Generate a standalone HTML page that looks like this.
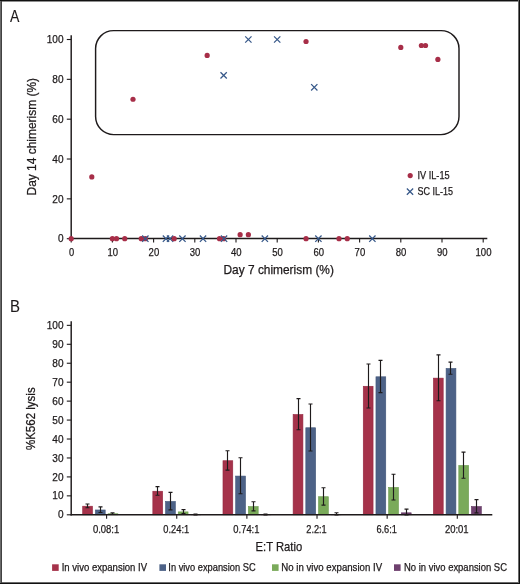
<!DOCTYPE html>
<html><head><meta charset="utf-8"><style>
html,body{margin:0;padding:0;background:#fff;}
body{width:520px;height:584px;overflow:hidden;}
svg{display:block;will-change:transform;}
text{font-family:"Liberation Sans",sans-serif;fill:#1e1a1b;stroke:#1e1a1b;stroke-width:0.25px;}
</style></head><body>
<svg width="520" height="584" viewBox="0 0 520 584">
<rect width="520" height="584" fill="#fff"/>
<text x="10.0" y="22.2" font-size="15.8" textLength="9.4" lengthAdjust="spacingAndGlyphs" style="stroke-width:0.1px">A</text>
<line x1="71.2" y1="35.2" x2="71.2" y2="239.1" stroke="#1e1a1b" stroke-width="1.45"/>
<line x1="70.60000000000001" y1="238.4" x2="487.3" y2="238.4" stroke="#1e1a1b" stroke-width="1.45"/>
<line x1="66.8" y1="238.70" x2="71.2" y2="238.70" stroke="#1e1a1b" stroke-width="1.1"/>
<text x="63.50" y="242.40" font-size="11.2" text-anchor="end" textLength="5.6" lengthAdjust="spacingAndGlyphs" >0</text>
<line x1="66.8" y1="198.86" x2="71.2" y2="198.86" stroke="#1e1a1b" stroke-width="1.1"/>
<text x="63.50" y="202.56" font-size="11.2" text-anchor="end" textLength="11.2" lengthAdjust="spacingAndGlyphs" >20</text>
<line x1="66.8" y1="159.02" x2="71.2" y2="159.02" stroke="#1e1a1b" stroke-width="1.1"/>
<text x="63.50" y="162.72" font-size="11.2" text-anchor="end" textLength="11.2" lengthAdjust="spacingAndGlyphs" >40</text>
<line x1="66.8" y1="119.18" x2="71.2" y2="119.18" stroke="#1e1a1b" stroke-width="1.1"/>
<text x="63.50" y="122.88" font-size="11.2" text-anchor="end" textLength="11.2" lengthAdjust="spacingAndGlyphs" >60</text>
<line x1="66.8" y1="79.34" x2="71.2" y2="79.34" stroke="#1e1a1b" stroke-width="1.1"/>
<text x="63.50" y="83.04" font-size="11.2" text-anchor="end" textLength="11.2" lengthAdjust="spacingAndGlyphs" >80</text>
<line x1="66.8" y1="39.50" x2="71.2" y2="39.50" stroke="#1e1a1b" stroke-width="1.1"/>
<text x="63.50" y="43.20" font-size="11.2" text-anchor="end" textLength="16.799999999999997" lengthAdjust="spacingAndGlyphs" >100</text>
<line x1="71.20" y1="238.4" x2="71.20" y2="242.6" stroke="#1e1a1b" stroke-width="1.1"/>
<text x="71.50" y="255.70" font-size="11" text-anchor="middle" textLength="5.2" lengthAdjust="spacingAndGlyphs" >0</text>
<line x1="112.40" y1="238.4" x2="112.40" y2="242.6" stroke="#1e1a1b" stroke-width="1.1"/>
<text x="112.70" y="255.70" font-size="11" text-anchor="middle" textLength="10.600000000000001" lengthAdjust="spacingAndGlyphs" >10</text>
<line x1="153.60" y1="238.4" x2="153.60" y2="242.6" stroke="#1e1a1b" stroke-width="1.1"/>
<text x="153.90" y="255.70" font-size="11" text-anchor="middle" textLength="10.600000000000001" lengthAdjust="spacingAndGlyphs" >20</text>
<line x1="194.80" y1="238.4" x2="194.80" y2="242.6" stroke="#1e1a1b" stroke-width="1.1"/>
<text x="195.10" y="255.70" font-size="11" text-anchor="middle" textLength="10.600000000000001" lengthAdjust="spacingAndGlyphs" >30</text>
<line x1="236.00" y1="238.4" x2="236.00" y2="242.6" stroke="#1e1a1b" stroke-width="1.1"/>
<text x="236.30" y="255.70" font-size="11" text-anchor="middle" textLength="10.600000000000001" lengthAdjust="spacingAndGlyphs" >40</text>
<line x1="277.20" y1="238.4" x2="277.20" y2="242.6" stroke="#1e1a1b" stroke-width="1.1"/>
<text x="277.50" y="255.70" font-size="11" text-anchor="middle" textLength="10.600000000000001" lengthAdjust="spacingAndGlyphs" >50</text>
<line x1="318.40" y1="238.4" x2="318.40" y2="242.6" stroke="#1e1a1b" stroke-width="1.1"/>
<text x="318.70" y="255.70" font-size="11" text-anchor="middle" textLength="10.600000000000001" lengthAdjust="spacingAndGlyphs" >60</text>
<line x1="359.60" y1="238.4" x2="359.60" y2="242.6" stroke="#1e1a1b" stroke-width="1.1"/>
<text x="359.90" y="255.70" font-size="11" text-anchor="middle" textLength="10.600000000000001" lengthAdjust="spacingAndGlyphs" >70</text>
<line x1="400.80" y1="238.4" x2="400.80" y2="242.6" stroke="#1e1a1b" stroke-width="1.1"/>
<text x="401.10" y="255.70" font-size="11" text-anchor="middle" textLength="10.600000000000001" lengthAdjust="spacingAndGlyphs" >80</text>
<line x1="442.00" y1="238.4" x2="442.00" y2="242.6" stroke="#1e1a1b" stroke-width="1.1"/>
<text x="442.30" y="255.70" font-size="11" text-anchor="middle" textLength="10.600000000000001" lengthAdjust="spacingAndGlyphs" >90</text>
<line x1="483.20" y1="238.4" x2="483.20" y2="242.6" stroke="#1e1a1b" stroke-width="1.1"/>
<text x="483.50" y="255.70" font-size="11" text-anchor="middle" textLength="16.000000000000004" lengthAdjust="spacingAndGlyphs" >100</text>
<text x="223.50" y="273.60" font-size="12.2" text-anchor="start" textLength="110.4" lengthAdjust="spacingAndGlyphs" >Day 7 chimerism (%)</text>
<text transform="translate(36.3,195.5) rotate(-90)" x="0" y="0" font-size="12.2" textLength="117.5" lengthAdjust="spacingAndGlyphs">Day 14 chimerism (%)</text>
<rect x="95.6" y="30.6" width="363.4" height="104.0" rx="18" ry="18" fill="none" stroke="#1e1a1b" stroke-width="1.45"/>
<circle cx="133.00" cy="99.26" r="2.6" fill="#a72e48"/>
<circle cx="207.16" cy="55.44" r="2.6" fill="#a72e48"/>
<circle cx="306.04" cy="41.49" r="2.6" fill="#a72e48"/>
<circle cx="400.80" cy="47.47" r="2.6" fill="#a72e48"/>
<circle cx="421.40" cy="45.48" r="2.6" fill="#a72e48"/>
<circle cx="425.52" cy="45.48" r="2.6" fill="#a72e48"/>
<circle cx="437.88" cy="59.42" r="2.6" fill="#a72e48"/>
<circle cx="91.80" cy="176.95" r="2.6" fill="#a72e48"/>
<circle cx="71.20" cy="238.70" r="2.6" fill="#a72e48"/>
<circle cx="112.40" cy="238.70" r="2.6" fill="#a72e48"/>
<circle cx="116.52" cy="238.70" r="2.6" fill="#a72e48"/>
<circle cx="124.76" cy="238.70" r="2.6" fill="#a72e48"/>
<circle cx="141.24" cy="238.70" r="2.6" fill="#a72e48"/>
<circle cx="145.36" cy="238.70" r="2.6" fill="#a72e48"/>
<circle cx="219.52" cy="238.70" r="2.6" fill="#a72e48"/>
<circle cx="223.64" cy="238.70" r="2.6" fill="#a72e48"/>
<circle cx="240.12" cy="234.72" r="2.6" fill="#a72e48"/>
<circle cx="248.36" cy="234.72" r="2.6" fill="#a72e48"/>
<circle cx="306.04" cy="238.70" r="2.6" fill="#a72e48"/>
<circle cx="339.00" cy="238.70" r="2.6" fill="#a72e48"/>
<circle cx="347.24" cy="238.70" r="2.6" fill="#a72e48"/>
<path d="M220.49 72.21L226.79 78.51M226.79 72.21L220.49 78.51" stroke="#375889" stroke-width="1.25" fill="none"/>
<path d="M245.21 36.35L251.51 42.65M251.51 36.35L245.21 42.65" stroke="#375889" stroke-width="1.25" fill="none"/>
<path d="M274.05 36.35L280.35 42.65M280.35 36.35L274.05 42.65" stroke="#375889" stroke-width="1.25" fill="none"/>
<path d="M311.13 84.16L317.43 90.46M317.43 84.16L311.13 90.46" stroke="#375889" stroke-width="1.25" fill="none"/>
<path d="M142.21 235.55L148.51 241.85M148.51 235.55L142.21 241.85" stroke="#375889" stroke-width="1.25" fill="none"/>
<path d="M162.81 235.55L169.11 241.85M169.11 235.55L162.81 241.85" stroke="#375889" stroke-width="1.25" fill="none"/>
<path d="M166.93 235.55L173.23 241.85M173.23 235.55L166.93 241.85" stroke="#375889" stroke-width="1.25" fill="none"/>
<path d="M179.29 235.55L185.59 241.85M185.59 235.55L179.29 241.85" stroke="#375889" stroke-width="1.25" fill="none"/>
<path d="M199.89 235.55L206.19 241.85M206.19 235.55L199.89 241.85" stroke="#375889" stroke-width="1.25" fill="none"/>
<path d="M220.90 235.55L227.20 241.85M227.20 235.55L220.90 241.85" stroke="#375889" stroke-width="1.25" fill="none"/>
<path d="M261.69 235.55L267.99 241.85M267.99 235.55L261.69 241.85" stroke="#375889" stroke-width="1.25" fill="none"/>
<path d="M315.25 235.55L321.55 241.85M321.55 235.55L315.25 241.85" stroke="#375889" stroke-width="1.25" fill="none"/>
<path d="M369.22 235.55L375.52 241.85M375.52 235.55L369.22 241.85" stroke="#375889" stroke-width="1.25" fill="none"/>
<circle cx="174.20" cy="238.70" r="2.6" fill="#a72e48"/>
<circle cx="410.2" cy="175.6" r="2.6" fill="#a72e48"/>
<text x="417.50" y="179.20" font-size="10.6" text-anchor="start" textLength="32.1" lengthAdjust="spacingAndGlyphs" >IV IL-15</text>
<path d="M406.85 188.45L413.15 194.75M413.15 188.45L406.85 194.75" stroke="#375889" stroke-width="1.25" fill="none"/>
<text x="417.50" y="195.20" font-size="10.6" text-anchor="start" textLength="35.5" lengthAdjust="spacingAndGlyphs" >SC IL-15</text>
<text x="9.9" y="311.6" font-size="15.6" textLength="10" lengthAdjust="spacingAndGlyphs" style="stroke-width:0.1px">B</text>
<line x1="71.2" y1="321.2" x2="71.2" y2="515.4" stroke="#1e1a1b" stroke-width="1.45"/>
<line x1="66.8" y1="514.80" x2="71.2" y2="514.80" stroke="#1e1a1b" stroke-width="1.1"/>
<text x="63.50" y="518.40" font-size="11.2" text-anchor="end" textLength="5.6" lengthAdjust="spacingAndGlyphs" >0</text>
<line x1="66.8" y1="495.85" x2="71.2" y2="495.85" stroke="#1e1a1b" stroke-width="1.1"/>
<text x="63.50" y="499.45" font-size="11.2" text-anchor="end" textLength="11.2" lengthAdjust="spacingAndGlyphs" >10</text>
<line x1="66.8" y1="476.91" x2="71.2" y2="476.91" stroke="#1e1a1b" stroke-width="1.1"/>
<text x="63.50" y="480.51" font-size="11.2" text-anchor="end" textLength="11.2" lengthAdjust="spacingAndGlyphs" >20</text>
<line x1="66.8" y1="457.96" x2="71.2" y2="457.96" stroke="#1e1a1b" stroke-width="1.1"/>
<text x="63.50" y="461.56" font-size="11.2" text-anchor="end" textLength="11.2" lengthAdjust="spacingAndGlyphs" >30</text>
<line x1="66.8" y1="439.02" x2="71.2" y2="439.02" stroke="#1e1a1b" stroke-width="1.1"/>
<text x="63.50" y="442.62" font-size="11.2" text-anchor="end" textLength="11.2" lengthAdjust="spacingAndGlyphs" >40</text>
<line x1="66.8" y1="420.07" x2="71.2" y2="420.07" stroke="#1e1a1b" stroke-width="1.1"/>
<text x="63.50" y="423.67" font-size="11.2" text-anchor="end" textLength="11.2" lengthAdjust="spacingAndGlyphs" >50</text>
<line x1="66.8" y1="401.13" x2="71.2" y2="401.13" stroke="#1e1a1b" stroke-width="1.1"/>
<text x="63.50" y="404.73" font-size="11.2" text-anchor="end" textLength="11.2" lengthAdjust="spacingAndGlyphs" >60</text>
<line x1="66.8" y1="382.18" x2="71.2" y2="382.18" stroke="#1e1a1b" stroke-width="1.1"/>
<text x="63.50" y="385.78" font-size="11.2" text-anchor="end" textLength="11.2" lengthAdjust="spacingAndGlyphs" >70</text>
<line x1="66.8" y1="363.24" x2="71.2" y2="363.24" stroke="#1e1a1b" stroke-width="1.1"/>
<text x="63.50" y="366.84" font-size="11.2" text-anchor="end" textLength="11.2" lengthAdjust="spacingAndGlyphs" >80</text>
<line x1="66.8" y1="344.29" x2="71.2" y2="344.29" stroke="#1e1a1b" stroke-width="1.1"/>
<text x="63.50" y="347.89" font-size="11.2" text-anchor="end" textLength="11.2" lengthAdjust="spacingAndGlyphs" >90</text>
<line x1="66.8" y1="325.35" x2="71.2" y2="325.35" stroke="#1e1a1b" stroke-width="1.1"/>
<text x="63.50" y="328.95" font-size="11.2" text-anchor="end" textLength="16.799999999999997" lengthAdjust="spacingAndGlyphs" >100</text>
<rect x="82.70" y="506.20" width="9.8" height="8.60" fill="#a5324a" stroke="#952640" stroke-width="0.6"/>
<rect x="95.40" y="509.98" width="9.8" height="4.82" fill="#4d6287" stroke="#42567a" stroke-width="0.6"/>
<rect x="108.10" y="513.77" width="9.8" height="1.03" fill="#7aaa5a" stroke="#6a9a4c" stroke-width="0.6"/>
<path d="M87.50 504.00V507.79M85.50 504.00H89.50M85.50 507.79H89.50" stroke="#1e1a1b" stroke-width="1.15" fill="none"/>
<path d="M100.50 506.84V512.53M98.50 506.84H102.50M98.50 512.53H102.50" stroke="#1e1a1b" stroke-width="1.15" fill="none"/>
<path d="M112.50 512.72V514.23M110.50 512.72H114.50M110.50 514.23H114.50" stroke="#1e1a1b" stroke-width="1.15" fill="none"/>
<line x1="106.60" y1="514.8" x2="106.60" y2="518.7" stroke="#1e1a1b" stroke-width="1.1"/>
<text x="106.10" y="533.20" font-size="10.2" text-anchor="middle" textLength="26.400000000000002" lengthAdjust="spacingAndGlyphs" >0.08:1</text>
<rect x="152.84" y="491.23" width="9.8" height="23.57" fill="#a5324a" stroke="#952640" stroke-width="0.6"/>
<rect x="165.54" y="501.46" width="9.8" height="13.34" fill="#4d6287" stroke="#42567a" stroke-width="0.6"/>
<rect x="178.24" y="511.88" width="9.8" height="2.92" fill="#7aaa5a" stroke="#6a9a4c" stroke-width="0.6"/>
<rect x="190.94" y="514.72" width="9.8" height="0.10" fill="#6e406e" stroke="#5c305c" stroke-width="0.6"/>
<path d="M157.50 486.57V495.29M155.50 486.57H159.50M155.50 495.29H159.50" stroke="#1e1a1b" stroke-width="1.15" fill="none"/>
<path d="M170.50 492.44V509.87M168.50 492.44H172.50M168.50 509.87H172.50" stroke="#1e1a1b" stroke-width="1.15" fill="none"/>
<path d="M183.50 509.68V513.47M181.50 509.68H185.50M181.50 513.47H185.50" stroke="#1e1a1b" stroke-width="1.15" fill="none"/>
<path d="M195.50 514.04V514.80M193.50 514.04H197.50M193.50 514.80H197.50" stroke="#1e1a1b" stroke-width="1.15" fill="none"/>
<line x1="176.74" y1="514.8" x2="176.74" y2="518.7" stroke="#1e1a1b" stroke-width="1.1"/>
<text x="176.24" y="533.20" font-size="10.2" text-anchor="middle" textLength="25.8" lengthAdjust="spacingAndGlyphs" >0.24:1</text>
<rect x="222.98" y="460.73" width="9.8" height="54.07" fill="#a5324a" stroke="#952640" stroke-width="0.6"/>
<rect x="235.68" y="476.07" width="9.8" height="38.73" fill="#4d6287" stroke="#42567a" stroke-width="0.6"/>
<rect x="248.38" y="506.57" width="9.8" height="8.23" fill="#7aaa5a" stroke="#6a9a4c" stroke-width="0.6"/>
<rect x="261.08" y="514.72" width="9.8" height="0.10" fill="#6e406e" stroke="#5c305c" stroke-width="0.6"/>
<path d="M227.50 450.77V470.09M225.50 450.77H229.50M225.50 470.09H229.50" stroke="#1e1a1b" stroke-width="1.15" fill="none"/>
<path d="M240.50 457.78V493.77M238.50 457.78H242.50M238.50 493.77H242.50" stroke="#1e1a1b" stroke-width="1.15" fill="none"/>
<path d="M253.50 501.73V510.82M251.50 501.73H255.50M251.50 510.82H255.50" stroke="#1e1a1b" stroke-width="1.15" fill="none"/>
<path d="M265.50 514.04V514.80M263.50 514.04H267.50M263.50 514.80H267.50" stroke="#1e1a1b" stroke-width="1.15" fill="none"/>
<line x1="246.88" y1="514.8" x2="246.88" y2="518.7" stroke="#1e1a1b" stroke-width="1.1"/>
<text x="246.38" y="533.20" font-size="10.2" text-anchor="middle" textLength="26.1" lengthAdjust="spacingAndGlyphs" >0.74:1</text>
<rect x="293.12" y="414.50" width="9.8" height="100.30" fill="#a5324a" stroke="#952640" stroke-width="0.6"/>
<rect x="305.82" y="427.76" width="9.8" height="87.04" fill="#4d6287" stroke="#42567a" stroke-width="0.6"/>
<rect x="318.52" y="496.72" width="9.8" height="18.08" fill="#7aaa5a" stroke="#6a9a4c" stroke-width="0.6"/>
<rect x="331.22" y="514.53" width="9.8" height="0.27" fill="#6e406e" stroke="#5c305c" stroke-width="0.6"/>
<path d="M298.50 398.67V429.74M296.50 398.67H300.50M296.50 429.74H300.50" stroke="#1e1a1b" stroke-width="1.15" fill="none"/>
<path d="M310.50 403.97V450.96M308.50 403.97H312.50M308.50 450.96H312.50" stroke="#1e1a1b" stroke-width="1.15" fill="none"/>
<path d="M323.50 487.71V505.14M321.50 487.71H325.50M321.50 505.14H325.50" stroke="#1e1a1b" stroke-width="1.15" fill="none"/>
<path d="M336.50 512.72V514.80M334.50 512.72H338.50M334.50 514.80H338.50" stroke="#1e1a1b" stroke-width="1.15" fill="none"/>
<line x1="317.02" y1="514.8" x2="317.02" y2="518.7" stroke="#1e1a1b" stroke-width="1.1"/>
<text x="316.52" y="533.20" font-size="10.2" text-anchor="middle" textLength="20.400000000000002" lengthAdjust="spacingAndGlyphs" >2.2:1</text>
<rect x="363.26" y="386.27" width="9.8" height="128.53" fill="#a5324a" stroke="#952640" stroke-width="0.6"/>
<rect x="375.96" y="376.80" width="9.8" height="138.00" fill="#4d6287" stroke="#42567a" stroke-width="0.6"/>
<rect x="388.66" y="487.44" width="9.8" height="27.36" fill="#7aaa5a" stroke="#6a9a4c" stroke-width="0.6"/>
<rect x="401.36" y="512.83" width="9.8" height="1.97" fill="#6e406e" stroke="#5c305c" stroke-width="0.6"/>
<path d="M368.50 364.00V407.95M366.50 364.00H370.50M366.50 407.95H370.50" stroke="#1e1a1b" stroke-width="1.15" fill="none"/>
<path d="M380.50 360.40V392.60M378.50 360.40H382.50M378.50 392.60H382.50" stroke="#1e1a1b" stroke-width="1.15" fill="none"/>
<path d="M393.50 474.26V500.02M391.50 474.26H395.50M391.50 500.02H395.50" stroke="#1e1a1b" stroke-width="1.15" fill="none"/>
<path d="M406.50 509.12V514.80M404.50 509.12H408.50M404.50 514.80H408.50" stroke="#1e1a1b" stroke-width="1.15" fill="none"/>
<line x1="387.16" y1="514.8" x2="387.16" y2="518.7" stroke="#1e1a1b" stroke-width="1.1"/>
<text x="386.66" y="533.20" font-size="10.2" text-anchor="middle" textLength="20.5" lengthAdjust="spacingAndGlyphs" >6.6:1</text>
<rect x="433.40" y="378.13" width="9.8" height="136.67" fill="#a5324a" stroke="#952640" stroke-width="0.6"/>
<rect x="446.10" y="368.47" width="9.8" height="146.33" fill="#4d6287" stroke="#42567a" stroke-width="0.6"/>
<rect x="458.80" y="465.46" width="9.8" height="49.34" fill="#7aaa5a" stroke="#6a9a4c" stroke-width="0.6"/>
<rect x="471.50" y="506.57" width="9.8" height="8.23" fill="#6e406e" stroke="#5c305c" stroke-width="0.6"/>
<path d="M438.50 354.90V400.75M436.50 354.90H440.50M436.50 400.75H440.50" stroke="#1e1a1b" stroke-width="1.15" fill="none"/>
<path d="M450.50 362.10V374.23M448.50 362.10H452.50M448.50 374.23H452.50" stroke="#1e1a1b" stroke-width="1.15" fill="none"/>
<path d="M463.50 452.09V478.24M461.50 452.09H465.50M461.50 478.24H465.50" stroke="#1e1a1b" stroke-width="1.15" fill="none"/>
<path d="M476.50 499.64V512.91M474.50 499.64H478.50M474.50 512.91H478.50" stroke="#1e1a1b" stroke-width="1.15" fill="none"/>
<line x1="457.30" y1="514.8" x2="457.30" y2="518.7" stroke="#1e1a1b" stroke-width="1.1"/>
<text x="456.80" y="533.20" font-size="10.2" text-anchor="middle" textLength="23.7" lengthAdjust="spacingAndGlyphs" >20:01</text>
<line x1="70.60000000000001" y1="514.8" x2="492.3" y2="514.8" stroke="#1e1a1b" stroke-width="1.45"/>
<text x="255.60" y="550.60" font-size="12.6" text-anchor="start" textLength="46.6" lengthAdjust="spacingAndGlyphs" >E:T Ratio</text>
<text transform="translate(35.4,450.1) rotate(-90)" x="0" y="0" font-size="12" textLength="62.8" lengthAdjust="spacingAndGlyphs">%K562 lysis</text>
<rect x="52.1" y="564.3" width="6.6" height="6.6" fill="#a5324a"/>
<text x="61.70" y="570.90" font-size="10.5" text-anchor="start" textLength="85.4" lengthAdjust="spacingAndGlyphs" >In vivo expansion IV</text>
<rect x="159.4" y="564.3" width="6.6" height="6.6" fill="#4d6287"/>
<text x="168.30" y="570.90" font-size="10.5" text-anchor="start" textLength="87.3" lengthAdjust="spacingAndGlyphs" >In vivo expansion SC</text>
<rect x="272.0" y="564.3" width="6.6" height="6.6" fill="#7aaa5a"/>
<text x="281.30" y="570.90" font-size="10.5" text-anchor="start" textLength="100.8" lengthAdjust="spacingAndGlyphs" >No in vivo expansion IV</text>
<rect x="394.0" y="564.3" width="6.6" height="6.6" fill="#6e406e"/>
<text x="404.00" y="570.90" font-size="10.5" text-anchor="start" textLength="103.0" lengthAdjust="spacingAndGlyphs" >No in vivo expansion SC</text>
<rect x="0" y="0" width="1" height="584" fill="#6a6a6a"/>
<rect x="1" y="0" width="1" height="584" fill="#424242"/>
<rect x="0" y="0" width="520" height="1" fill="#111"/>
<rect x="2" y="1" width="516" height="0.6" fill="#444"/>
<rect x="518" y="0" width="1" height="584" fill="#6a6a6a"/>
<rect x="519" y="0" width="1" height="584" fill="#111"/>
<rect x="2" y="582" width="516" height="1" fill="#6a6a6a"/>
<rect x="0" y="583" width="520" height="1" fill="#111"/>
</svg>
</body></html>
